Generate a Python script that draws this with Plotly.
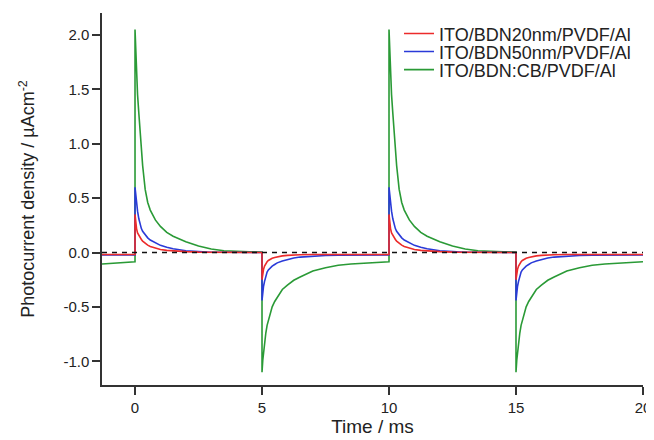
import plotly.graph_objects as go

# ---- data ----
time_ms = [
    -1.3, -0.5, 0.0,
    0.0, 0.03, 0.06, 0.1, 0.15, 0.2, 0.25, 0.3, 0.4, 0.5, 0.6, 0.8, 1.0, 1.25, 1.5, 2.0, 2.5, 3.0, 3.5, 4.0, 4.5, 5.0,
    5.0, 5.03, 5.06, 5.1, 5.15, 5.2, 5.25, 5.3, 5.4, 5.5, 5.6, 5.8, 6.0, 6.25, 6.5, 7.0, 7.5, 8.0, 8.5, 9.0, 9.5, 10.0,
    10.0, 10.03, 10.06, 10.1, 10.15, 10.2, 10.25, 10.3, 10.4, 10.5, 10.6, 10.8, 11.0, 11.25, 11.5, 12.0, 12.5, 13.0, 13.5, 14.0, 14.5, 15.0,
    15.0, 15.03, 15.06, 15.1, 15.15, 15.2, 15.25, 15.3, 15.4, 15.5, 15.6, 15.8, 16.0, 16.25, 16.5, 17.0, 17.5, 18.0, 18.5, 19.0, 19.5, 20.0,
]

bdn20 = [
    -0.018, -0.018, -0.018,
    0.35, 0.27, 0.22, 0.18, 0.155, 0.14, 0.12, 0.105, 0.085, 0.068, 0.056, 0.04, 0.028, 0.02, 0.015, 0.008, 0.004, 0.002, 0.001, 0.0, 0.0, 0.0,
    -0.25, -0.19, -0.155, -0.125, -0.10, -0.085, -0.073, -0.065, -0.053, -0.045, -0.039, -0.031, -0.026, -0.022, -0.02, -0.018, -0.017, -0.017, -0.017, -0.018, -0.018, -0.018,
    0.35, 0.27, 0.22, 0.18, 0.155, 0.14, 0.12, 0.105, 0.085, 0.068, 0.056, 0.04, 0.028, 0.02, 0.015, 0.008, 0.004, 0.002, 0.001, 0.0, 0.0, 0.0,
    -0.25, -0.19, -0.155, -0.125, -0.10, -0.085, -0.073, -0.065, -0.053, -0.045, -0.039, -0.031, -0.026, -0.022, -0.02, -0.018, -0.017, -0.017, -0.017, -0.018, -0.018, -0.018,
]

bdn50 = [
    -0.022, -0.022, -0.022,
    0.60, 0.51, 0.45, 0.38, 0.31, 0.25, 0.22, 0.195, 0.16, 0.135, 0.115, 0.088, 0.066, 0.048, 0.035, 0.016, 0.007, 0.003, 0.002, 0.001, 0.0, 0.0,
    -0.44, -0.36, -0.31, -0.265, -0.21, -0.18, -0.16, -0.145, -0.125, -0.11, -0.095, -0.078, -0.065, -0.05, -0.042, -0.033, -0.027, -0.024, -0.023, -0.022, -0.022, -0.022,
    0.60, 0.51, 0.45, 0.38, 0.31, 0.25, 0.22, 0.195, 0.16, 0.135, 0.115, 0.088, 0.066, 0.048, 0.035, 0.016, 0.007, 0.003, 0.002, 0.001, 0.0, 0.0,
    -0.44, -0.36, -0.31, -0.265, -0.21, -0.18, -0.16, -0.145, -0.125, -0.11, -0.095, -0.078, -0.065, -0.05, -0.042, -0.033, -0.027, -0.024, -0.023, -0.022, -0.022, -0.022,
]

bdn_cb = [
    -0.105, -0.09, -0.085,
    2.05, 1.85, 1.65, 1.45, 1.28, 1.12, 0.95, 0.80, 0.58, 0.46, 0.39, 0.30, 0.24, 0.185, 0.15, 0.10, 0.06, 0.032, 0.016, 0.009, 0.006, 0.005,
    -1.10, -0.99, -0.91, -0.82, -0.74, -0.67, -0.62, -0.57, -0.50, -0.45, -0.41, -0.34, -0.30, -0.255, -0.225, -0.17, -0.14, -0.117, -0.105, -0.097, -0.09, -0.085,
    2.05, 1.85, 1.65, 1.45, 1.28, 1.12, 0.95, 0.80, 0.58, 0.46, 0.39, 0.30, 0.24, 0.185, 0.15, 0.10, 0.06, 0.032, 0.016, 0.009, 0.006, 0.005,
    -1.10, -0.99, -0.91, -0.82, -0.74, -0.67, -0.62, -0.57, -0.50, -0.45, -0.41, -0.34, -0.30, -0.255, -0.225, -0.17, -0.14, -0.117, -0.105, -0.097, -0.09, -0.085,
]

series_names = ["ITO/BDN20nm/PVDF/Al", "ITO/BDN50nm/PVDF/Al", "ITO/BDN:CB/PVDF/Al"]
series_values = [bdn20, bdn50, bdn_cb]
series_colors = ["#ec2b2b", "#2a3ad8", "#2a9a36"]
legend_ids = ["legend", "legend2", "legend3"]
x_ticks = [0, 5, 10, 15, 20]
y_ticks = [-1.0, -0.5, 0.0, 0.5, 1.0, 1.5, 2.0]

FONT = "Arial, 'Liberation Sans', sans-serif"
AXIS_COL = "#333333"

fig = go.Figure()
# draw green first, red last (red on top)
for name, vals, col, lg in reversed(list(zip(series_names, series_values, series_colors, legend_ids))):
    fig.add_trace(go.Scatter(x=time_ms, y=vals, mode="lines", name=name, legend=lg,
                             line=dict(color=col, width=1.6)))

fig.add_shape(type="line", xref="paper", yref="y", x0=0, x1=1, y0=0, y1=0,
              line=dict(color="#111111", width=1.5, dash="5px,5px"), layer="above")

legend_rows_y = [0.944, 0.8955, 0.847]
legend_common = dict(x=0.549, xanchor="left", yanchor="middle", bgcolor="rgba(0,0,0,0)",
                     font=dict(size=18, color="#222222"), itemwidth=30, borderwidth=0)

fig.update_layout(
    width=646, height=432,
    margin=dict(l=94, r=11, t=5, b=55),
    paper_bgcolor="white", plot_bgcolor="white",
    font=dict(family=FONT, color="#222222", size=15),
    showlegend=True,
    legend=dict(y=legend_rows_y[0], **legend_common),
    legend2=dict(y=legend_rows_y[1], **legend_common),
    legend3=dict(y=legend_rows_y[2], **legend_common),
    xaxis=dict(range=[-1.3, 20], tickvals=x_ticks, ticktext=[str(v) for v in x_ticks],
               showgrid=False, zeroline=False, showline=True, linecolor=AXIS_COL, linewidth=1.5,
               ticks="outside", ticklen=8, tickwidth=1.5, tickcolor=AXIS_COL,
               tickfont=dict(size=15), automargin=False,
               title=dict(text="Time / ms", font=dict(size=19), standoff=0)),
    yaxis=dict(range=[-1.218, 2.202], tickvals=y_ticks, ticktext=[f"{v:.1f}" for v in y_ticks],
               showgrid=False, zeroline=False, showline=True, linecolor=AXIS_COL, linewidth=1.5,
               ticks="outside", ticklen=8, tickwidth=1.5, tickcolor=AXIS_COL,
               tickfont=dict(size=15), automargin=False,
               title=dict(text="Photocurrent density / µAcm<sup>-2</sup>", font=dict(size=18), standoff=24)),
)

fig.write_html("out.html")
